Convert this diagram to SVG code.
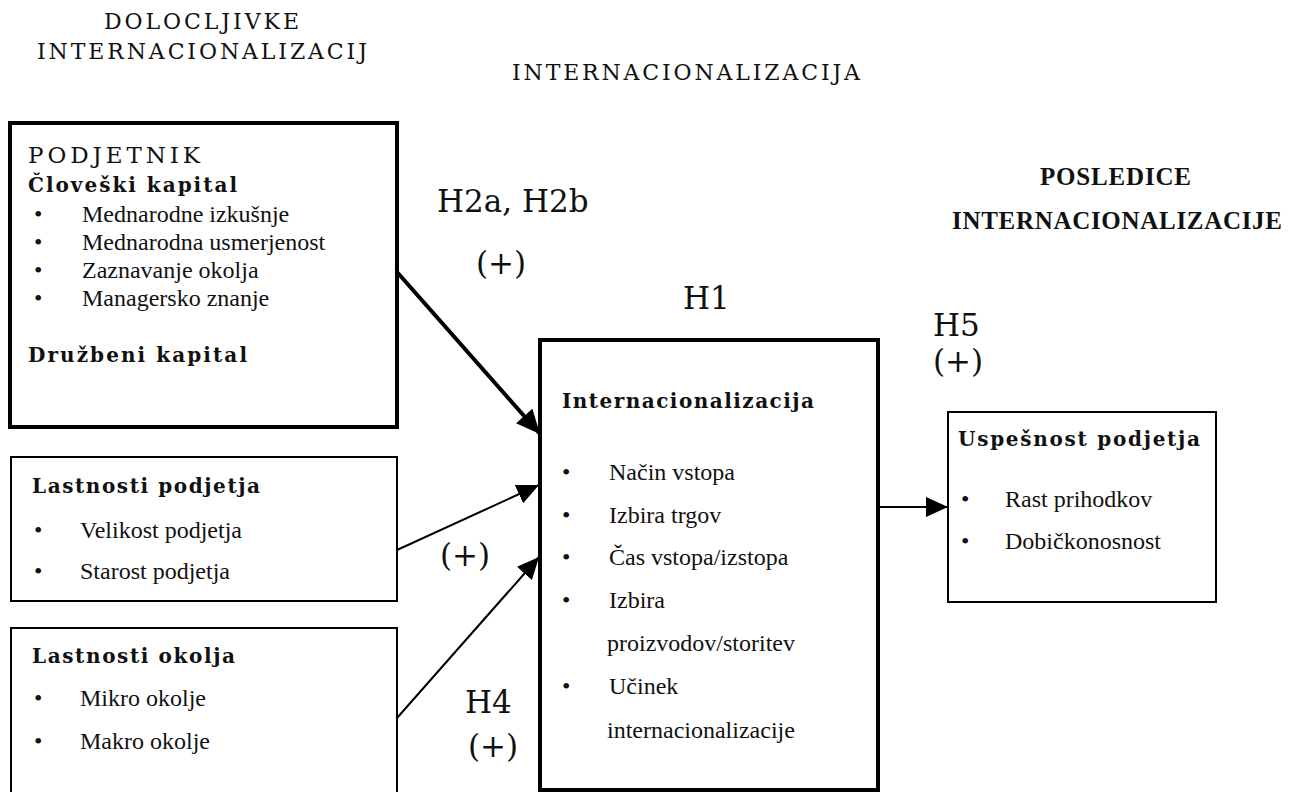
<svg xmlns="http://www.w3.org/2000/svg" width="1299" height="792" viewBox="0 0 1299 792">
<style>
.hdr{font-family:"DejaVu Serif","Liberation Serif",serif;font-size:22px;fill:#111}
.hdrb{font-family:"Liberation Serif","Times New Roman",serif;font-size:25px;font-weight:bold;fill:#111}
.ttl{font-family:"DejaVu Serif","Liberation Serif",serif;font-size:20px;font-weight:bold;fill:#111}
.pod{font-family:"DejaVu Serif","Liberation Serif",serif;font-size:23px;fill:#111}
.itm{font-family:"Liberation Serif","Times New Roman",serif;font-size:24px;fill:#111}
.hyp{font-family:"DejaVu Serif","Liberation Serif",serif;font-size:31px;fill:#111}
.thick{fill:#fff;stroke:#000;stroke-width:4}
.thin{fill:#fff;stroke:#000;stroke-width:2}
.c1{stroke:#000;stroke-width:4;fill:none}
.c2{stroke:#000;stroke-width:2;fill:none}
</style>
<defs>
<marker id="ah" markerUnits="userSpaceOnUse" markerWidth="26" markerHeight="22" refX="24" refY="11" orient="auto">
<path d="M0,0 L24,11 L0,22 z" fill="#000"/>
</marker>
<marker id="ah2" markerUnits="userSpaceOnUse" markerWidth="24" markerHeight="20" refX="22" refY="10" orient="auto">
<path d="M0,0 L22,10 L0,20 z" fill="#000"/>
</marker>
</defs>
<rect width="1299" height="792" fill="#fff"/>

<g id="headers">
<text class="hdr" x="104" y="29" textLength="195" lengthAdjust="spacing">DOLOCLJIVKE</text>
<text class="hdr" x="37" y="59" textLength="330" lengthAdjust="spacing">INTERNACIONALIZACIJ</text>
<text class="hdr" x="512" y="80" textLength="348" lengthAdjust="spacing">INTERNACIONALIZACIJA</text>
<text class="hdrb" x="1040" y="185" textLength="151" lengthAdjust="spacing">POSLEDICE</text>
<text class="hdrb" x="952" y="229" textLength="330" lengthAdjust="spacing">INTERNACIONALIZACIJE</text>
</g>

<g id="podjetnik">
<rect class="thick" x="10" y="123" width="387" height="304"/>
<text class="pod" x="28" y="163" textLength="172" lengthAdjust="spacing">PODJETNIK</text>
<text class="ttl" x="28" y="192" textLength="209" lengthAdjust="spacing">Človeški kapital</text>
<text class="itm" x="34" y="222">•</text><text class="itm" x="82" y="222">Mednarodne izkušnje</text>
<text class="itm" x="34" y="250">•</text><text class="itm" x="82" y="250">Mednarodna usmerjenost</text>
<text class="itm" x="34" y="278">•</text><text class="itm" x="82" y="278">Zaznavanje okolja</text>
<text class="itm" x="34" y="306">•</text><text class="itm" x="82" y="306">Managersko znanje</text>
<text class="ttl" x="28" y="362" textLength="219" lengthAdjust="spacing">Družbeni kapital</text>
</g>

<g id="lastnosti-podjetja">
<rect class="thin" x="11" y="457" width="386" height="144"/>
<text class="ttl" x="32" y="493" textLength="228" lengthAdjust="spacing">Lastnosti podjetja</text>
<text class="itm" x="34" y="538">•</text><text class="itm" x="80" y="538">Velikost podjetja</text>
<text class="itm" x="34" y="579">•</text><text class="itm" x="80" y="579">Starost podjetja</text>
</g>

<g id="lastnosti-okolja">
<rect class="thin" x="11" y="628" width="386" height="166"/>
<text class="ttl" x="32" y="663" textLength="203" lengthAdjust="spacing">Lastnosti okolja</text>
<text class="itm" x="34" y="706">•</text><text class="itm" x="80" y="706">Mikro okolje</text>
<text class="itm" x="34" y="749">•</text><text class="itm" x="80" y="749">Makro okolje</text>
</g>

<g id="internacionalizacija">
<rect class="thick" x="540" y="340" width="338" height="450"/>
<text class="ttl" x="562" y="408" textLength="252" lengthAdjust="spacing">Internacionalizacija</text>
<text class="itm" x="562" y="480">•</text><text class="itm" x="609" y="480">Način vstopa</text>
<text class="itm" x="562" y="523">•</text><text class="itm" x="609" y="523">Izbira trgov</text>
<text class="itm" x="562" y="565">•</text><text class="itm" x="609" y="565">Čas vstopa/izstopa</text>
<text class="itm" x="562" y="608">•</text><text class="itm" x="609" y="608">Izbira</text>
<text class="itm" x="607" y="651">proizvodov/storitev</text>
<text class="itm" x="562" y="694">•</text><text class="itm" x="609" y="694">Učinek</text>
<text class="itm" x="607" y="738">internacionalizacije</text>
</g>

<g id="uspesnost">
<rect class="thin" x="948" y="412" width="268" height="190"/>
<text class="ttl" x="958" y="446" textLength="242" lengthAdjust="spacing">Uspešnost podjetja</text>
<text class="itm" x="961" y="507">•</text><text class="itm" x="1005" y="507">Rast prihodkov</text>
<text class="itm" x="961" y="549">•</text><text class="itm" x="1005" y="549">Dobičkonosnost</text>
</g>

<g id="connectors">
<line class="c1" x1="397" y1="272" x2="540" y2="434" marker-end="url(#ah)"/>
<line class="c2" x1="397" y1="550" x2="539" y2="485" marker-end="url(#ah2)"/>
<line class="c2" x1="397" y1="718" x2="539" y2="557" marker-end="url(#ah2)"/>
<line class="c2" x1="878" y1="507" x2="948" y2="507" marker-end="url(#ah2)"/>
</g>

<g id="labels">
<text class="hyp" x="437" y="212">H2a, H2b</text>
<text class="hyp" x="476" y="274">(+)</text>
<text class="hyp" x="683" y="309">H1</text>
<text class="hyp" x="933" y="336">H5</text>
<text class="hyp" x="933" y="372">(+)</text>
<text class="hyp" x="440" y="566">(+)</text>
<text class="hyp" x="465" y="713">H4</text>
<text class="hyp" x="468" y="757" font-size="25">(+)</text>
</g>
</svg>
